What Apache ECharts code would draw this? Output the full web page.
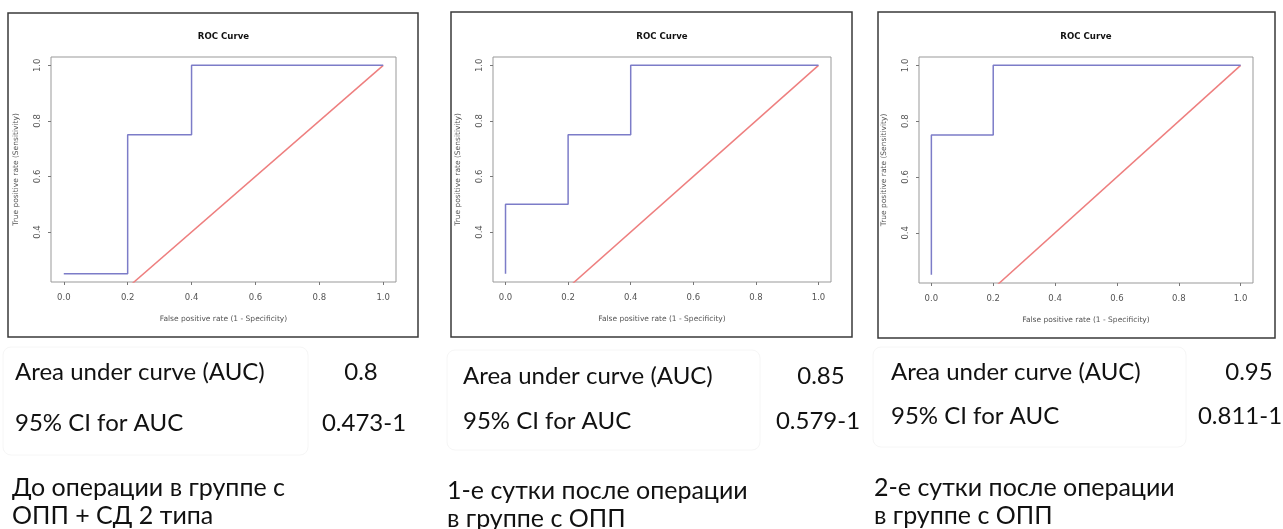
<!DOCTYPE html>
<html><head><meta charset="utf-8">
<script src="https://cdn.jsdelivr.net/npm/echarts@6/dist/echarts.min.js"></script>
<style>html,body{margin:0;padding:0;background:#fff;}#c{width:1283px;height:529px;}</style>
</head><body><div id="c"></div>
<script>
// ---- data ----
const panelTitles = ["ROC Curve", "ROC Curve", "ROC Curve"];
const xAxisName = "False positive rate (1 - Specificity)";
const yAxisName = "True positive rate (Sensitivity)";
const xTicks = [0, 0.2, 0.4, 0.6, 0.8, 1.0];
const yTicks = [0.4, 0.6, 0.8, 1.0];
const fpr1 = [0, 0.2, 0.2, 0.4, 0.4, 1.0];
const tpr1 = [0.25, 0.25, 0.75, 0.75, 1.0, 1.0];
const fpr2 = [0, 0, 0.2, 0.2, 0.4, 0.4, 1.0];
const tpr2 = [0.25, 0.5, 0.5, 0.75, 0.75, 1.0, 1.0];
const fpr3 = [0, 0, 0.2, 0.2, 1.0];
const tpr3 = [0.25, 0.75, 0.75, 1.0, 1.0];
const diagX = [0, 1];
const diagY = [0, 1];
const rowLabels = ["Area under curve (AUC)", "95% CI for AUC"];
const aucValues = ["0.8", "0.85", "0.95"];
const ciValues = ["0.473-1", "0.579-1", "0.811-1"];
const captions = [
  ["До операции в группе с", "ОПП + СД 2 типа"],
  ["1-е сутки после операции", "в группе с ОПП"],
  ["2-е сутки после операции", "в группе с ОПП"]
];

// ---- layout ----
const grids = [
  {left: 51, top: 57, width: 345, height: 225},
  {left: 493, top: 57, width: 338, height: 225},
  {left: 919, top: 57, width: 334, height: 226}
];
const frames = [
  {x: 8, y: 13, w: 410, h: 324},
  {x: 451, y: 12, w: 401, h: 325},
  {x: 878, y: 12, w: 397, h: 326}
];
const tableBoxes = [
  {x: 3, y: 347, w: 305, h: 108},
  {x: 447, y: 350, w: 313, h: 100},
  {x: 873, y: 347, w: 313, h: 100}
];
const textLayout = [
  {lx: 15, vx: 361, r1: 372, r2: 423, cx: 12, c1: 488, c2: 516},
  {lx: 463, vx: 821, r1: 376, r2: 421, cx: 447, c1: 491, c2: 519},
  {lx: 891, vx: 1249, r1: 372, r2: 416, cx: 874, c1: 488, c2: 516}
];
const ciCenters = [364, 818, 1240];

const fprs = [fpr1, fpr2, fpr3];
const tprs = [tpr1, tpr2, tpr3];
const rocColor = '#7c7cc8';
const diagColor = '#ee7f7f';
const axisFont = 'DejaVu Sans';
const tableFont = '24px "Lato"';
const captionFont = '25px "Lato"';

const xAxes = [], yAxes = [], series = [], graphics = [];
grids.forEach((g, i) => {
  xAxes.push({
    type: 'value', gridIndex: i, min: -0.04, max: 1.04,
    name: xAxisName, nameLocation: 'middle', nameGap: 33,
    nameTextStyle: {fontFamily: axisFont, fontSize: 7.5, color: '#555'},
    axisLine: {show: false, onZero: false},
    axisTick: {show: true, customValues: xTicks, length: 3, inside: false, lineStyle: {color: '#777'}},
    axisLabel: {customValues: xTicks, formatter: v => v.toFixed(1), fontFamily: axisFont, fontSize: 8.5, color: '#555', margin: 11},
    splitLine: {show: false}
  });
  yAxes.push({
    type: 'value', gridIndex: i, min: 0.22, max: 1.03,
    name: yAxisName, nameLocation: 'middle', nameGap: 31, nameRotate: 90,
    nameTextStyle: {fontFamily: axisFont, fontSize: 7.5, color: '#555'},
    axisLine: {show: false, onZero: false},
    axisTick: {show: true, customValues: yTicks, length: 3, lineStyle: {color: '#777'}},
    axisLabel: {customValues: yTicks, rotate: 90, formatter: v => v.toFixed(1), fontFamily: axisFont, fontSize: 8.5, color: '#555', margin: 9},
    splitLine: {show: false}
  });
  series.push({
    type: 'line', xAxisIndex: i, yAxisIndex: i, showSymbol: false, silent: true,
    data: fprs[i].map((x, k) => [x, tprs[i][k]]),
    lineStyle: {color: rocColor, width: 1.5}, clip: true, z: 3
  });
  series.push({
    type: 'line', xAxisIndex: i, yAxisIndex: i, showSymbol: false, silent: true,
    data: diagX.map((x, k) => [x, diagY[k]]),
    lineStyle: {color: diagColor, width: 1.5}, clip: true, z: 2
  });
  const f = frames[i];
  graphics.push({type: 'rect', shape: {x: f.x, y: f.y, width: f.w, height: f.h},
    style: {fill: 'none', stroke: '#3a3a3a', lineWidth: 1.5}, silent: true});
  const tb = tableBoxes[i];
  graphics.push({type: 'rect', shape: {x: tb.x, y: tb.y, width: tb.w, height: tb.h, r: 8},
    style: {fill: 'none', stroke: '#f6f6f6', lineWidth: 1}, silent: true});
  graphics.push({type: 'text', x: g.left + g.width / 2, y: 37,
    style: {text: panelTitles[i], font: 'bold 8.6px "DejaVu Sans"', fill: '#111', textAlign: 'center', textVerticalAlign: 'middle'}});
  const t = textLayout[i];
  graphics.push({type: 'text', x: t.lx, y: t.r1, style: {text: rowLabels[0], font: tableFont, fill: '#111', textAlign: 'left', textVerticalAlign: 'middle'}});
  graphics.push({type: 'text', x: t.vx, y: t.r1, style: {text: aucValues[i], font: tableFont, fill: '#111', textAlign: 'center', textVerticalAlign: 'middle'}});
  graphics.push({type: 'text', x: t.lx, y: t.r2, style: {text: rowLabels[1], font: tableFont, fill: '#111', textAlign: 'left', textVerticalAlign: 'middle'}});
  graphics.push({type: 'text', x: ciCenters[i], y: t.r2, style: {text: ciValues[i], font: tableFont, fill: '#111', textAlign: 'center', textVerticalAlign: 'middle'}});
  graphics.push({type: 'text', x: t.cx, y: t.c1, style: {text: captions[i][0], font: captionFont, fill: '#111', textAlign: 'left', textVerticalAlign: 'middle'}});
  graphics.push({type: 'text', x: t.cx, y: t.c2, style: {text: captions[i][1], font: captionFont, fill: '#111', textAlign: 'left', textVerticalAlign: 'middle'}});
});

const chart = echarts.init(document.getElementById('c'), null, {renderer: 'canvas'});
chart.setOption({
  animation: false,
  backgroundColor: '#fff',
  grid: grids.map(g => Object.assign({show: true, borderColor: '#999', borderWidth: 1, backgroundColor: 'transparent'}, g)),
  xAxis: xAxes,
  yAxis: yAxes,
  series: series,
  graphic: graphics
});
</script></body></html>
